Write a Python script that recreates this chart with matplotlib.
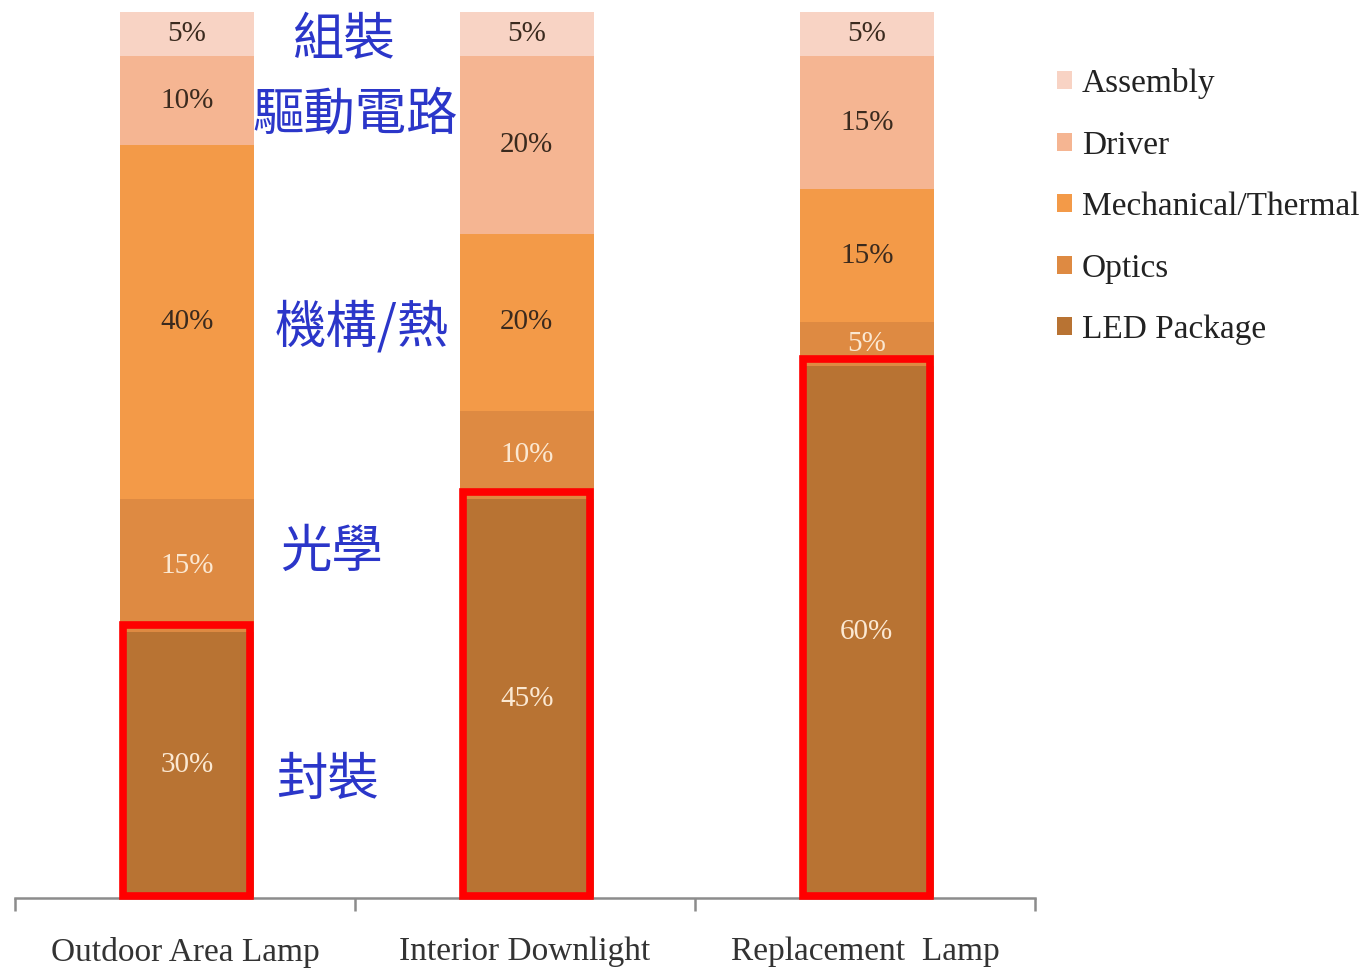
import matplotlib
matplotlib.use("Agg")
import matplotlib.pyplot as plt
from matplotlib.patches import Rectangle, Patch
import numpy as np

categories = ["Outdoor Area Lamp", "Interior Downlight", "Replacement  Lamp"]
components = ["LED Package", "Optics", "Mechanical/Thermal", "Driver", "Assembly"]
led_package = [30, 45, 60]
optics = [15, 10, 5]
mechanical = [40, 20, 15]
driver = [10, 20, 15]
assembly = [5, 5, 5]
series = [led_package, optics, mechanical, driver, assembly]
colors = ["#B87333", "#DE8A42", "#F39A48", "#F5B592", "#F8D3C4"]
label_colors = ["#FBE8D2", "#FBE8D2", "#3A2A1E", "#3A2A1E", "#3A2A1E"]

zh_labels = ["組裝", "驅動電路", "機構/熱", "光學", "封裝"]
zh_pos = [(0.47, 96.8), (0.50, 88.4), (0.52, 64.4), (0.43, 39.0), (0.42, 13.3)]

fig = plt.figure(figsize=(13.66, 9.68), dpi=100)
ax = fig.add_axes([15/1366, 1-898/968, (1035-15)/1366, (898-12)/968])

x = np.arange(len(categories))
width = 0.395
bottom = np.zeros(len(categories))
handles = []
for vals, c, lc, name in zip(series, colors, label_colors, components):
    vals = np.array(vals, dtype=float)
    ax.bar(x + 0.005, vals, width, bottom=bottom, color=c, edgecolor="none")
    for xi, b, v in zip(x, bottom, vals):
        ax.text(xi + 0.005, b + v/2, f"{int(v)}%", ha="center", va="center",
                fontsize=21, color=lc, family="Liberation Serif")
    handles.append(Patch(facecolor=c, edgecolor="none", label=name))
    bottom += vals

# red highlight boxes around LED package segments
for xi, v in zip(x, led_package):
    ax.add_patch(Rectangle((xi + 0.005 - width/2 + 0.01, 0.2), width - 0.02, v + 0.6,
                           fill=False, edgecolor="#FF0000", linewidth=5.5,
                           clip_on=False, zorder=5))

for t, (px, py) in zip(zh_labels, zh_pos):
    ax.text(px, py, t, ha="center", va="center", fontsize=37,
            color="#2B36C9", family=["Noto Sans CJK TC", "DejaVu Sans"])

ax.set_xlim(-0.5, 2.5)
ax.set_ylim(0, 100)
for s in ["top", "right", "left"]:
    ax.spines[s].set_visible(False)
ax.spines["bottom"].set_color("#8C8C8C")
ax.spines["bottom"].set_linewidth(1.8)
ax.set_yticks([])
ax.set_xticks(x)
ax.set_xticklabels(categories, fontsize=24, family="Liberation Serif", color="#333333")
ax.tick_params(axis="x", which="major", length=0, pad=28)
ax.set_xticks([-0.5, 0.5, 1.5, 2.5], minor=True)
ax.tick_params(axis="x", which="minor", length=9, width=1.8, color="#8C8C8C")

leg = fig.legend(handles=handles[::-1], loc="upper left",
                 bbox_to_anchor=(1057/1366, 1-68/968), frameon=False,
                 prop={"family": "Liberation Serif", "size": 24},
                 handlelength=0.45, handleheight=0.45, handletextpad=0.3,
                 labelspacing=0.93, borderpad=0, borderaxespad=0)
for t in leg.get_texts():
    t.set_color("#222222")

fig.savefig("out.png", dpi=100)
